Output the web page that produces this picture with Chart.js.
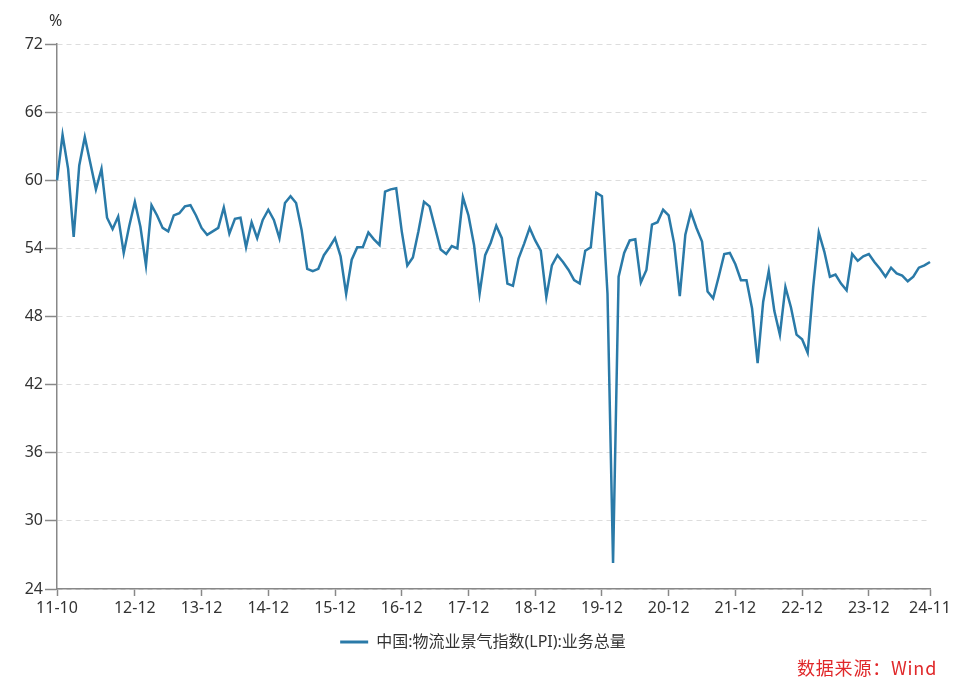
<!DOCTYPE html>
<html><head><meta charset="utf-8">
<script src="https://cdn.jsdelivr.net/npm/chart.js@4/dist/chart.umd.min.js"></script>
<style>
html,body{margin:0;padding:0;background:#fff;}
#wrap{position:relative;width:960px;height:681px;}
#c{display:block;}
#unit{position:absolute;left:49px;top:9px;font:16px 'Noto Sans','Noto Sans CJK SC',sans-serif;color:#333;}
#source{position:absolute;left:797px;top:654px;font:18px 'Noto Sans CJK SC',sans-serif;color:#e0282a;letter-spacing:0.8px;}
</style></head><body>
<div id="wrap"><canvas id="c" width="960" height="681" style="width:960px;height:681px"></canvas><div id="unit">%</div><div id="source">数据来源：Wind</div></div>
<script>
// Categories: monthly, 2011-10 .. 2024-11
const startYear = 2011, startMonth = 10, endYear = 2024, endMonth = 11;
const categories = [];
for (let y = startYear, m = startMonth; y < endYear || (y === endYear && m <= endMonth); ) {
  categories.push(String(y % 100).padStart(2, '0') + '-' + String(m).padStart(2, '0'));
  m++; if (m > 12) { m = 1; y++; }
}
const tickLabels = ['11-10','12-12','13-12','14-12','15-12','16-12','17-12','18-12','19-12','20-12','21-12','22-12','23-12','24-11'];
const seriesName = '中国:物流业景气指数(LPI):业务总量';
const lpiBusinessVolume = [
  60.0, 64.0, 61.0, 55.0, 61.3, 63.8, 61.5, 59.2, 61.0, 56.7, 55.7, 56.8, 53.6, 56.0, 58.1,
  55.9, 52.5, 57.8, 56.9, 55.8, 55.5, 56.9, 57.1, 57.7, 57.8, 56.9, 55.8,
  55.2, 55.5, 55.8, 57.6, 55.3, 56.6, 56.7, 54.1, 56.3, 54.9, 56.5, 57.4,
  56.5, 54.9, 58.0, 58.6, 58.0, 55.6, 52.2, 52.0, 52.2, 53.4, 54.1, 54.9,
  53.3, 50.0, 53.0, 54.1, 54.1, 55.4, 54.8, 54.3, 59.0, 59.2, 59.3, 55.5,
  52.5, 53.2, 55.5, 58.1, 57.7, 55.8, 53.9, 53.5, 54.2, 54.0, 58.5, 56.9,
  54.3, 50.0, 53.4, 54.5, 56.0, 54.9, 50.9, 50.7, 53.1, 54.4, 55.8, 54.7,
  53.8, 49.7, 52.5, 53.4, 52.8, 52.1, 51.2, 50.9, 53.8, 54.1, 58.9, 58.6,
  50.0, 26.3, 51.5, 53.6, 54.7, 54.8, 51.0, 52.1, 56.1, 56.3, 57.4, 56.9,
  54.4, 49.8, 55.2, 57.2, 55.8, 54.6, 50.2, 49.6, 51.5, 53.5, 53.6, 52.6,
  51.2, 51.2, 48.7, 43.9, 49.3, 52.0, 48.5, 46.4, 50.6, 48.8, 46.4, 46.0,
  44.8, 50.6, 55.4, 53.7, 51.5, 51.7, 50.9, 50.3, 53.5, 52.9, 53.3, 53.5,
  52.8, 52.2, 51.5, 52.3, 51.8, 51.6, 51.1, 51.5, 52.3, 52.5, 52.8
];
const yMin = 24, yMax = 72, yStep = 6;

const lineColor = '#2a7aa8';
const fam = "'Noto Sans','Noto Sans CJK SC',sans-serif";

// shift the legend block so it is centred like the reference
const legendShift = {
  id: 'legendShift',
  beforeDraw(chart) { if (chart.legend) { chart.legend.left = 36; } }
};

new Chart(document.getElementById('c'), {
  type: 'line',
  data: {
    labels: categories,
    datasets: [{
      label: seriesName,
      data: lpiBusinessVolume,
      borderColor: lineColor,
      backgroundColor: lineColor,
      borderWidth: 2.5,
      pointRadius: 0,
      tension: 0,
      fill: false
    }]
  },
  plugins: [legendShift],
  options: {
    responsive: false,
    animation: false,
    devicePixelRatio: 1,
    layout: { padding: { top: 44, left: 0, right: 30, bottom: 21 } },
    plugins: {
      tooltip: { enabled: false },
      legend: {
        display: true,
        position: 'bottom',
        labels: {
          boxWidth: 28, boxHeight: 3, padding: 10, color: '#333',
          font: { size: 16, family: fam },
          generateLabels(chart) {
            const items = Chart.defaults.plugins.legend.labels.generateLabels(chart);
            items.forEach(it => { it.lineWidth = 0; it.fillStyle = lineColor; it.strokeStyle = lineColor; });
            return items;
          }
        }
      }
    },
    scales: {
      x: {
        type: 'category',
        offset: false,
        grid: { display: true, drawOnChartArea: false, drawTicks: true, tickLength: 7, tickColor: '#888', tickWidth: 1.5 },
        border: { display: true, color: '#888', width: 1.5 },
        ticks: {
          autoSkip: false, maxRotation: 0, minRotation: 0, padding: 3, color: '#333',
          font: { size: 16, family: fam },
          callback(v) { return this.getLabelForValue(v); }
        },
        afterBuildTicks(scale) {
          scale.ticks = scale.ticks.filter(t => tickLabels.includes(categories[t.value]));
        },
        afterFit(scale) { scale.height = 35; }
      },
      y: {
        min: yMin, max: yMax,
        ticks: { stepSize: yStep, color: '#333', padding: 2, font: { size: 16, family: fam } },
        grid: { color: '#dddddd', lineWidth: 1, tickColor: '#888', tickLength: 12, tickWidth: 1.5, tickBorderDash: [] },
        border: { display: true, color: '#888', width: 1.5, dash: [5, 4] },
        afterFit(scale) { scale.width = 57; }
      }
    }
  }
});
</script>
</body></html>
